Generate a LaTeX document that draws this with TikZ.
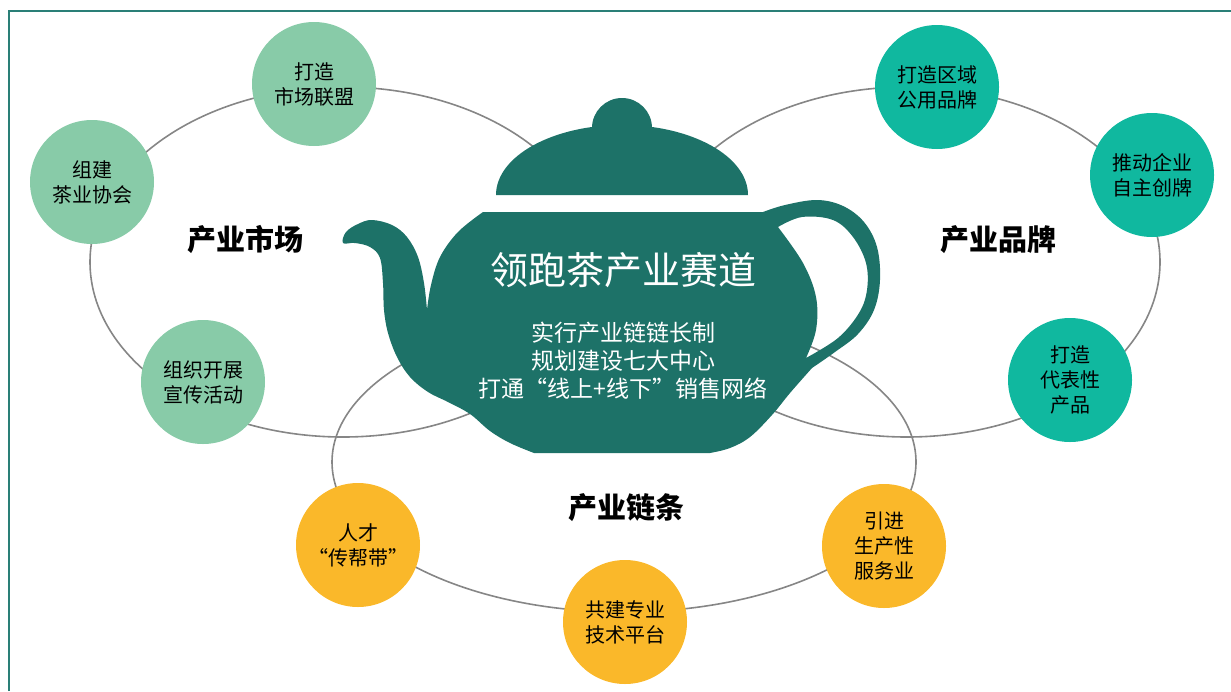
\documentclass[tikz,border=0pt]{standalone}
\usepackage{fontspec}
\setmainfont{Noto Sans CJK SC}
\definecolor{potgreen}{HTML}{1D7268}
\definecolor{marketgreen}{HTML}{88CBA8}
\definecolor{brandteal}{HTML}{10B89F}
\definecolor{chainorange}{HTML}{FAB82A}
\definecolor{frameteal}{HTML}{2A7F77}

\begin{document}
\begin{tikzpicture}[x=1pt, y=-1pt,
  frame/.style={draw=frameteal, line width=2.5pt},
  track/.style={draw=gray!95, line width=1.6pt},
  pot/.style={fill=potgreen},
  every bubble/.style={circle, minimum size=124pt, inner sep=0pt, align=center,
    font=\fontsize{20}{25}\selectfont},
  market/.style={every bubble, fill=marketgreen},
  brand/.style={every bubble, fill=brandteal},
  chain/.style={every bubble, fill=chainorange},
  ring label/.style={font=\fontsize{29}{34}\selectfont\bfseries}]
\useasboundingbox (0,0) rectangle (1231,691);
\draw [frame] (9,691) -- (9,11) -- (1231,11);

% the three rings
\draw [track] (343,262) ellipse [x radius=253, y radius=175];
\draw [track] (907,262) ellipse [x radius=253, y radius=175];
\draw [track] (624,462) ellipse [x radius=292, y radius=150];

% teapot
\fill [white] (483,158) rectangle (773,216);
\fill [pot] (496,195) arc [start angle=180, end angle=360, x radius=126, y radius=70] -- cycle;
\fill [pot] (622,128) circle [radius=30];
\fill [pot, even odd rule] (483,212) -- (763,212)
  -- plot [smooth, tension=0.6] coordinates {(763,212) (785,205) (817,200) (843,206) (864,222) (877,247) (880,280) (874,310) (858,334) (835,352) (812,368)}
  -- plot [smooth, tension=0.6] coordinates {(812,368) (790,393) (772,415) (750,437) (730,448) (710,453)}
  -- (534,453)
  -- plot [smooth, tension=0.6] coordinates {(534,453) (510,443) (490,431) (470,414) (448,402) (428,392) (410,377) (397,357) (388,333) (384,310) (383,283) (380,258) (370,247) (355,243) (343,243) (346,232) (358,224) (372,220) (392,225) (407,237) (418,257) (424,283) (427,310)}
  -- plot [smooth, tension=0.6] coordinates {(427,310) (431,285) (440,257) (458,232) (483,212)}
  -- cycle
  (778,227) -- plot [smooth, tension=0.6] coordinates {(778,227) (802,217) (833,220) (853,237) (866,263) (867,290) (859,313) (838,338) (806,358)}
  -- plot [smooth, tension=0.6] coordinates {(806,358) (816,330) (816,297) (803,263) (778,227)} -- cycle;

\node [white, font=\fontsize{38}{46}\selectfont] (title) at (623,270) {领跑茶产业赛道};
\node [white, align=center, font=\fontsize{23}{28}\selectfont] (measures) at (623,361)
  {实行产业链链长制\\规划建设七大中心\\打通“线上+线下”销售网络};

% bubbles on the rings
\foreach \x/\y/\t [count=\i] in {314/84/{打造\\市场联盟}, 92/182/{组建\\茶业协会}, 203/382/{组织开展\\宣传活动}}
  \node [market] (market-\i) at (\x,\y) {\t};

\foreach \x/\y/\t [count=\i] in {937/87/{打造区域\\公用品牌}, 1152/175/{推动企业\\自主创牌}, 1070/380/{打造\\代表性\\产品}}
  \node [brand] (brand-\i) at (\x,\y) {\t};

\foreach \x/\y/\t [count=\i] in {358/545/{人才\\“传帮带”}, 625/622/{共建专业\\技术平台}, 884/546/{引进\\生产性\\服务业}}
  \node [chain] (chain-\i) at (\x,\y) {\t};

\node [ring label] (market-label) at (245,240) {产业市场};
\node [ring label] (brand-label) at (998,240) {产业品牌};
\node [ring label] (chain-label) at (626,508) {产业链条};
\end{tikzpicture}
\end{document}
